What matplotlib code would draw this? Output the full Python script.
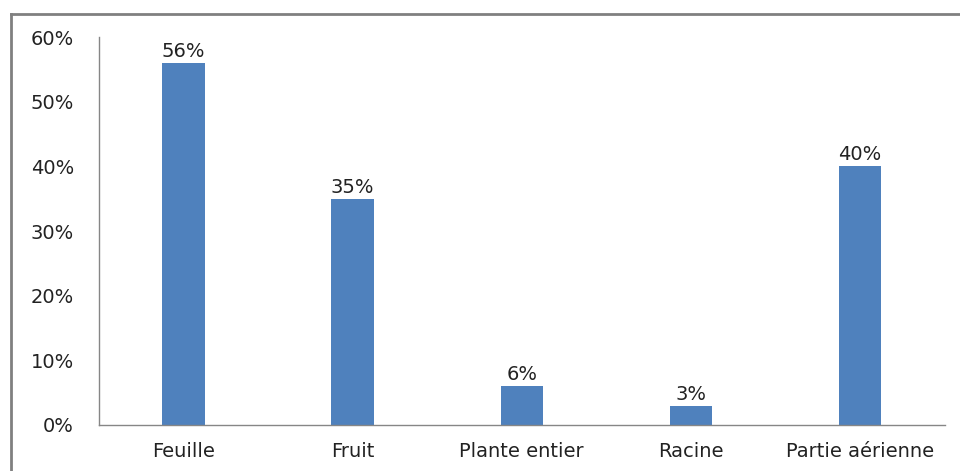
import matplotlib.pyplot as plt
from matplotlib.lines import Line2D

categories = ['Feuille', 'Fruit', 'Plante entier', 'Racine', 'Partie aérienne']
values = [0.56, 0.35, 0.06, 0.03, 0.40]
yticks = [0, 0.1, 0.2, 0.3, 0.4, 0.5, 0.6]

fig = plt.figure(figsize=(9.6, 4.71), dpi=100)
ax = fig.add_axes([0.103, 0.0977, 0.881, 0.8237])

x = range(len(categories))
bars = ax.bar(x, values, width=0.25, color='#4F81BD')
for xi, v in zip(x, values):
    ax.text(xi, v + 0.003, f'{round(v * 100)}%', ha='center', va='bottom',
            fontsize=14, color='#222222')

ax.set_xlim(-0.5, len(categories) - 0.5)
ax.set_ylim(0, 0.6)
ax.set_yticks(yticks)
ax.set_yticklabels([f'{round(t * 100)}%' for t in yticks])
ax.set_xticks(list(x))
ax.set_xticklabels(categories)
ax.tick_params(length=0, labelsize=14, colors='#222222')
ax.tick_params(axis='y', pad=18)
ax.tick_params(axis='x', pad=12)

for s in ['top', 'right']:
    ax.spines[s].set_visible(False)
for s in ['left', 'bottom']:
    ax.spines[s].set_color('#868686')
    ax.spines[s].set_linewidth(1)

# outer frame (top and left edges visible)
fig.add_artist(Line2D([11 / 960, 1], [1 - 14 / 471, 1 - 14 / 471],
                      transform=fig.transFigure, color='#808080', lw=2))
fig.add_artist(Line2D([11 / 960, 11 / 960], [0, 1 - 14 / 471],
                      transform=fig.transFigure, color='#808080', lw=2))

plt.savefig('out.png')
